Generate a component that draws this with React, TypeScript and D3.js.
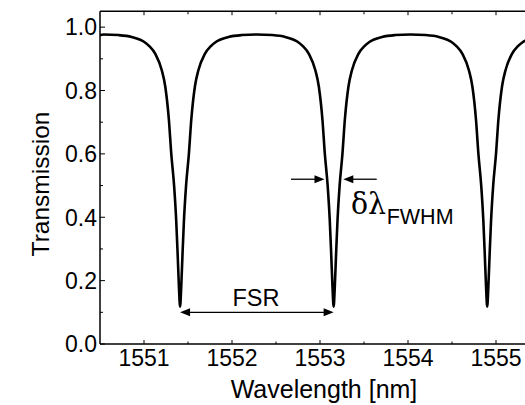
import React from "react";
import * as d3 from "d3";

// Resonance (dip) centres, in nm
const dipCenters = [1551.41, 1553.155, 1554.9];
// One dip profile: offset from centre (nm) vs transmission
const profileOffsets = [0, 0.013, 0.028, 0.044, 0.068, 0.1, 0.127, 0.168, 0.208, 0.28, 0.35, 0.41, 0.55, 0.7, 0.87];
const profileValues = [0.118, 0.18, 0.286, 0.39, 0.5, 0.6, 0.707, 0.812, 0.864, 0.915, 0.94, 0.954, 0.969, 0.975, 0.977];
const edgeValue = 0.975;

const xTicks = [1551, 1552, 1553, 1554, 1555];
const xMinor = [1551.5, 1552.5, 1553.5, 1554.5, 1555.5];
const yTicks = [0, 0.2, 0.4, 0.6, 0.8, 1.0];
const yMinor = [0.1, 0.3, 0.5, 0.7, 0.9];

const W = 525, H = 405;
const left = 100, right = 546, top = 11.3, bottom = 344;
const xDomain: [number, number] = [1550.5, 1550.5 + (right - left) / 88];
const yDomain: [number, number] = [0, 1.05];

export default function App() {
  const x = d3.scaleLinear().domain(xDomain).range([left, right]);
  const y = d3.scaleLinear().domain(yDomain).range([bottom, top]);

  const pts: [number, number][] = [[xDomain[0], edgeValue]];
  dipCenters.forEach((c, i) => {
    for (let k = profileOffsets.length - 1; k >= 1; k--) {
      if (i > 0 && k === profileOffsets.length - 1) continue;
      pts.push([c - profileOffsets[k], profileValues[k]]);
    }
    profileOffsets.forEach((o, k) => pts.push([c + o, profileValues[k]]));
  });
  const line = d3
    .line<[number, number]>()
    .x((d) => x(d[0]))
    .y((d) => y(d[1]))
    .curve(d3.curveMonotoneX);

  const font = "Liberation Sans, Arial, Helvetica, sans-serif";
  const fsrY = y(0.1);
  const fwY = y(0.52);
  const d1 = x(dipCenters[0]);
  const d2 = x(dipCenters[1]);

  const arrowHead = (tipX: number, tipY: number, dir: number) => {
    const len = 10, hw = 4;
    return `M${tipX},${tipY} L${tipX - dir * len},${tipY - hw} L${tipX - dir * len},${tipY + hw} Z`;
  };

  return (
    <svg width={W} height={H} style={{ position: "absolute", left: 0, top: 0, background: "#fff" }}>
      <defs>
        <clipPath id="plot">
          <rect x={left} y={top} width={right - left} height={bottom - top} />
        </clipPath>
      </defs>
      <rect x={0} y={0} width={W} height={H} fill="#fff" />
      <path d={line(pts) || ""} fill="none" stroke="#000" strokeWidth={2.6} clipPath="url(#plot)" strokeLinejoin="round" />

      {/* axes */}
      <line x1={left} x2={right} y1={bottom} y2={bottom} stroke="#000" strokeWidth={1.5} />
      <line x1={left} x2={right} y1={top} y2={top} stroke="#000" strokeWidth={1.5} />
      <line x1={left} x2={left} y1={top} y2={bottom} stroke="#000" strokeWidth={1.5} />

      {xTicks.map((t) => (
        <g key={"x" + t}>
          <line x1={x(t)} x2={x(t)} y1={bottom} y2={bottom - 4} stroke="#000" strokeWidth={1} />
          <line x1={x(t)} x2={x(t)} y1={top} y2={top + 4} stroke="#000" strokeWidth={1} />
          <text x={x(t)} y={366} textAnchor="middle" fontFamily={font} fontSize={23}>{t}</text>
        </g>
      ))}
      {xMinor.map((t) => (
        <g key={"xm" + t}>
          <line x1={x(t)} x2={x(t)} y1={bottom} y2={bottom - 2.5} stroke="#000" strokeWidth={1} />
          <line x1={x(t)} x2={x(t)} y1={top} y2={top + 3} stroke="#000" strokeWidth={1} />
        </g>
      ))}
      {yTicks.map((t) => (
        <g key={"y" + t}>
          <line x1={left} x2={left + 5} y1={y(t)} y2={y(t)} stroke="#000" strokeWidth={1} />
          <text x={97} y={y(t) + 8.3} textAnchor="end" fontFamily={font} fontSize={23}>{t.toFixed(1)}</text>
        </g>
      ))}
      {yMinor.map((t) => (
        <line key={"ym" + t} x1={left} x2={left + 3} y1={y(t)} y2={y(t)} stroke="#000" strokeWidth={1} />
      ))}

      <text x={324} y={398} textAnchor="middle" fontFamily={font} fontSize={25}>Wavelength [nm]</text>
      <text transform={`translate(49,184) rotate(-90)`} textAnchor="middle" fontFamily={font} fontSize={24.5}>Transmission</text>

      {/* FSR annotation */}
      <line x1={d1 + 8} x2={d2 - 8} y1={fsrY} y2={fsrY} stroke="#000" strokeWidth={1.3} />
      <path d={arrowHead(d1, fsrY, -1)} fill="#000" />
      <path d={arrowHead(d2, fsrY, 1)} fill="#000" />
      <text x={256} y={306} textAnchor="middle" fontFamily={font} fontSize={23.5}>FSR</text>

      {/* FWHM annotation */}
      <line x1={291} x2={318} y1={fwY} y2={fwY} stroke="#000" strokeWidth={1.3} />
      <path d={arrowHead(324.5, fwY, 1)} fill="#000" />
      <line x1={350} x2={376.7} y1={fwY} y2={fwY} stroke="#000" strokeWidth={1.3} />
      <path d={arrowHead(343.3, fwY, -1)} fill="#000" />
      <text x={351} y={213.5} fontFamily="DejaVu Serif, Liberation Serif, serif" fontSize={29} textLength={35} lengthAdjust="spacingAndGlyphs">δλ</text>
      <text x={386.7} y={224} fontFamily={font} fontSize={21.5}>FWHM</text>
    </svg>
  );
}
